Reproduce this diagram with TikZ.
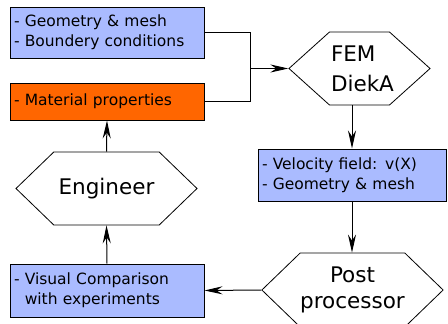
\documentclass[tikz,border=0pt]{standalone}
\usepackage{fontspec}
\setmainfont{DejaVu Sans}
\usetikzlibrary{shapes.symbols, arrows.meta}

\definecolor{boxblue}{RGB}{170,187,255}
\definecolor{boxorange}{RGB}{255,102,0}

\tikzset{
    infobox/.style={draw, line width=1pt, inner sep=4pt, align=left, text width=186pt,
        font=\fontsize{15.5}{20}\selectfont},
    hexnode/.style={draw, line width=0.8pt, shape=signal, signal to=west and east,
        signal pointer angle=88, inner sep=0pt, fill=white, font=\fontsize{21.5}{29}\selectfont},
    flow/.style={line width=1pt, -{Stealth[length=18pt, width=8pt, inset=6pt]}}
}

\begin{document}
\begin{tikzpicture}[x=1pt, y=-1pt]
        
        % Page
        \useasboundingbox (0,0) rectangle (448,324);
        
        % Input boxes
        \node[infobox, fill=boxblue, minimum height=51pt] (geometry) at (107,32.5)
            {- Geometry \& mesh\\- Boundery conditions};
        \node[infobox, fill=boxorange, minimum height=37pt] (material) at (107,101.5)
            {- Material properties};
        
        % Solver
        \node[hexnode, text width=57pt, inner xsep=1.5pt, minimum height=73pt, signal pointer angle=84,
            align=left, font=\fontsize{21.5}{30}\selectfont] (fem) at (359.5,68.5)
            {FEM\\DiekA};
        \coordinate (join) at (250,68.5);
        
        % Results
        \node[infobox, fill=boxblue, text width=180pt, minimum height=52pt] (velocity) at (352,175)
            {- Velocity field: v(X)\\- Geometry \& mesh};
        \node[hexnode, minimum width=181pt, minimum height=74pt, align=center,
            font=\fontsize{21.5}{26}\selectfont] (post) at (352.5,290)
            {Post\\processor};
        \node[infobox, fill=boxblue, minimum height=53pt] (visual) at (107,290.5)
            {- Visual Comparison\\\phantom{- }with experiments};
        
        % Engineer
        \node[hexnode, minimum width=181pt, minimum height=73pt] (engineer) at (106.5,188.5)
            {Engineer};
        
        % Connectors
        \draw[line width=1pt] (geometry.east) -| (join);
        \draw[line width=1pt] (material.east) -| (join);
        \draw[flow] (join) -- (fem.west);
        \draw[flow] (fem.south -| velocity.north) -- (velocity.north);
        \draw[flow] (velocity.south) -- (post.north -| velocity.south);
        \draw[flow] (post.west) -- (visual.east);
        \draw[flow] (visual.north) -- (engineer.south);
        \draw[flow] (engineer.north) -- (material.south);
        
\end{tikzpicture}
\end{document}
